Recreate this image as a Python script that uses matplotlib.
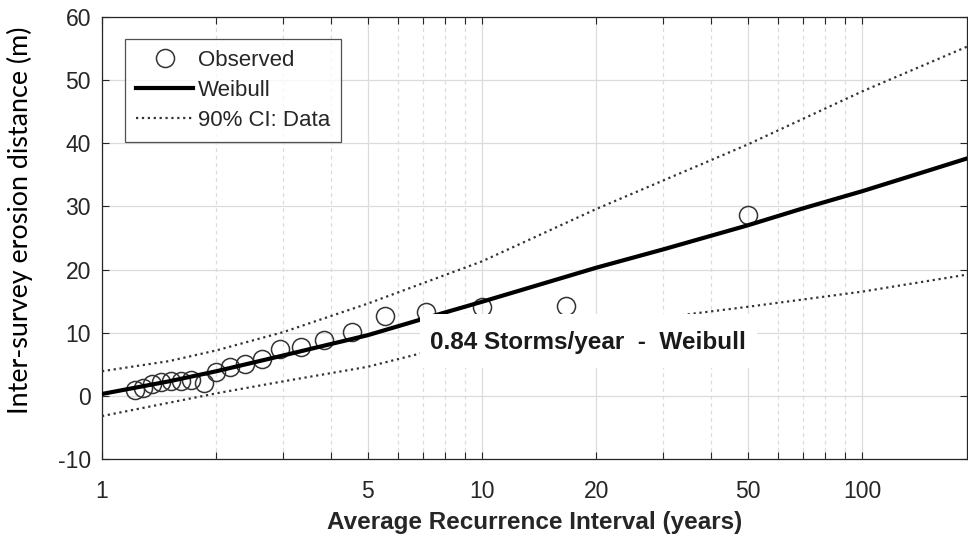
import matplotlib
matplotlib.use("Agg")
import matplotlib.pyplot as plt
from matplotlib.patches import Rectangle
from matplotlib.ticker import FixedLocator, NullFormatter, FixedFormatter

# ---- data ----
obs_T = [50.0, 16.67, 10.0, 7.14, 5.56, 4.55, 3.85, 3.33, 2.94, 2.63, 2.38,
         2.17, 2.0, 1.85, 1.72, 1.61, 1.52, 1.43, 1.35, 1.28, 1.22]
obs_y = [28.7, 14.3, 14.0, 13.3, 12.6, 10.1, 8.9, 7.8, 7.4, 5.8, 5.0,
         4.5, 3.8, 2.1, 2.5, 2.4, 2.3, 2.2, 1.8, 1.2, 0.9]

fit_T = [1, 1.5, 2, 3, 5, 7, 10, 20, 30, 50, 70, 100, 150, 189]
fit_y = [0.3, 2.3, 3.9, 6.4, 9.6, 12.2, 14.9, 20.3, 23.2, 27.0, 29.7, 32.4, 35.7, 37.6]

ciu_T = [1, 1.5, 2, 3, 5, 10, 20, 50, 100, 189]
ciu_y = [3.9, 5.5, 7.2, 10.1, 14.6, 21.3, 29.6, 39.8, 48.2, 55.3]

cil_T = [1, 2, 3, 5, 6.87, 10, 20, 35.7, 50, 100, 189]
cil_y = [-3.2, 0.4, 2.3, 4.6, 6.7, 8.1, 10.8, 13.0, 14.1, 16.5, 19.2]

xtick_vals = [1, 5, 10, 20, 50, 100]
xtick_labels = ["1", "5", "10", "20", "50", "100"]
xminor_vals = [2, 3, 4, 6, 7, 8, 9, 30, 40, 60, 70, 80, 90]
yticks = [-10, 0, 10, 20, 30, 40, 50, 60]

annot_text = "0.84 Storms/year  -  Weibull"

# ---- figure ----
plt.rcParams['font.family'] = ['Liberation Sans', 'DejaVu Sans']
plt.rcParams['axes.unicode_minus'] = False
fig = plt.figure(figsize=(9.68, 5.37), dpi=100)
ax = fig.add_axes([102/968, 78/537, 865/968, 442/537])

tick_col = '#262626'
ax.set_xscale('log')
ax.set_xlim(1, 189)
ax.set_ylim(-10, 60)

ax.xaxis.set_major_locator(FixedLocator(xtick_vals))
ax.xaxis.set_major_formatter(FixedFormatter(xtick_labels))
ax.xaxis.set_minor_locator(FixedLocator(xminor_vals))
ax.xaxis.set_minor_formatter(NullFormatter())
ax.set_yticks(yticks)

ax.grid(True, which='major', axis='both', color='#dcdcdc', lw=0.9, ls='-', zorder=0)
ax.grid(True, which='minor', axis='x', color='#dcdcdc', lw=0.9, ls=(0, (3, 3)), zorder=0)
ax.set_axisbelow(True)

ax.tick_params(which='both', direction='in', top=True, right=True,
               length=5, width=0.8, color=tick_col, labelcolor=tick_col,
               labelsize=16.5)
ax.tick_params(axis='y', which='both', pad=8)
ax.tick_params(axis='x', which='both', pad=15)
for s in ax.spines.values():
    s.set_color(tick_col)
    s.set_linewidth(0.9)

ax.plot(obs_T, obs_y, ls='none', marker='o', ms=13, mfc='none', mec='#333333',
        mew=1.1, label='Observed', zorder=3)
ax.plot(fit_T, fit_y, color='black', lw=3, label='Weibull', zorder=4)
ax.plot(ciu_T, ciu_y, color='#333333', lw=1.6, ls=':', label='90% CI: Data', zorder=3)
ax.plot(cil_T, cil_y, color='#333333', lw=1.6, ls=':', zorder=3)

# white annotation box
ax.add_patch(Rectangle((6.87, 4.4), 52.9 - 6.87, 13.0 - 4.4, facecolor='white',
                       edgecolor='none', zorder=5))
ax.text(19.0, 8.5, annot_text, ha='center', va='center', fontsize=17.5,
        fontweight='bold', color='#1a1a1a', zorder=6)

leg = ax.legend(loc='upper left', bbox_to_anchor=(23/865, 1 - 22/442), fontsize=16,
                handlelength=2.57, frameon=True, fancybox=False, borderaxespad=0,
                handletextpad=0.22, labelspacing=0.4, borderpad=0.5)
leg.get_frame().set_edgecolor('#262626')
leg.get_frame().set_linewidth(0.9)
for t in leg.get_texts():
    t.set_color('#262626')

ax.set_xlabel("Average Recurrence Interval (years)", fontsize=17.5, fontweight='bold',
              color='#262626', labelpad=6)
ax.set_ylabel("Inter-survey erosion distance (m)", fontsize=19.4, family=['Lato', 'DejaVu Sans'],
              color='black', va='center')
ax.yaxis.set_label_coords(-82/865, (459 - 220)/442)

fig.savefig("out.png", dpi=100)
